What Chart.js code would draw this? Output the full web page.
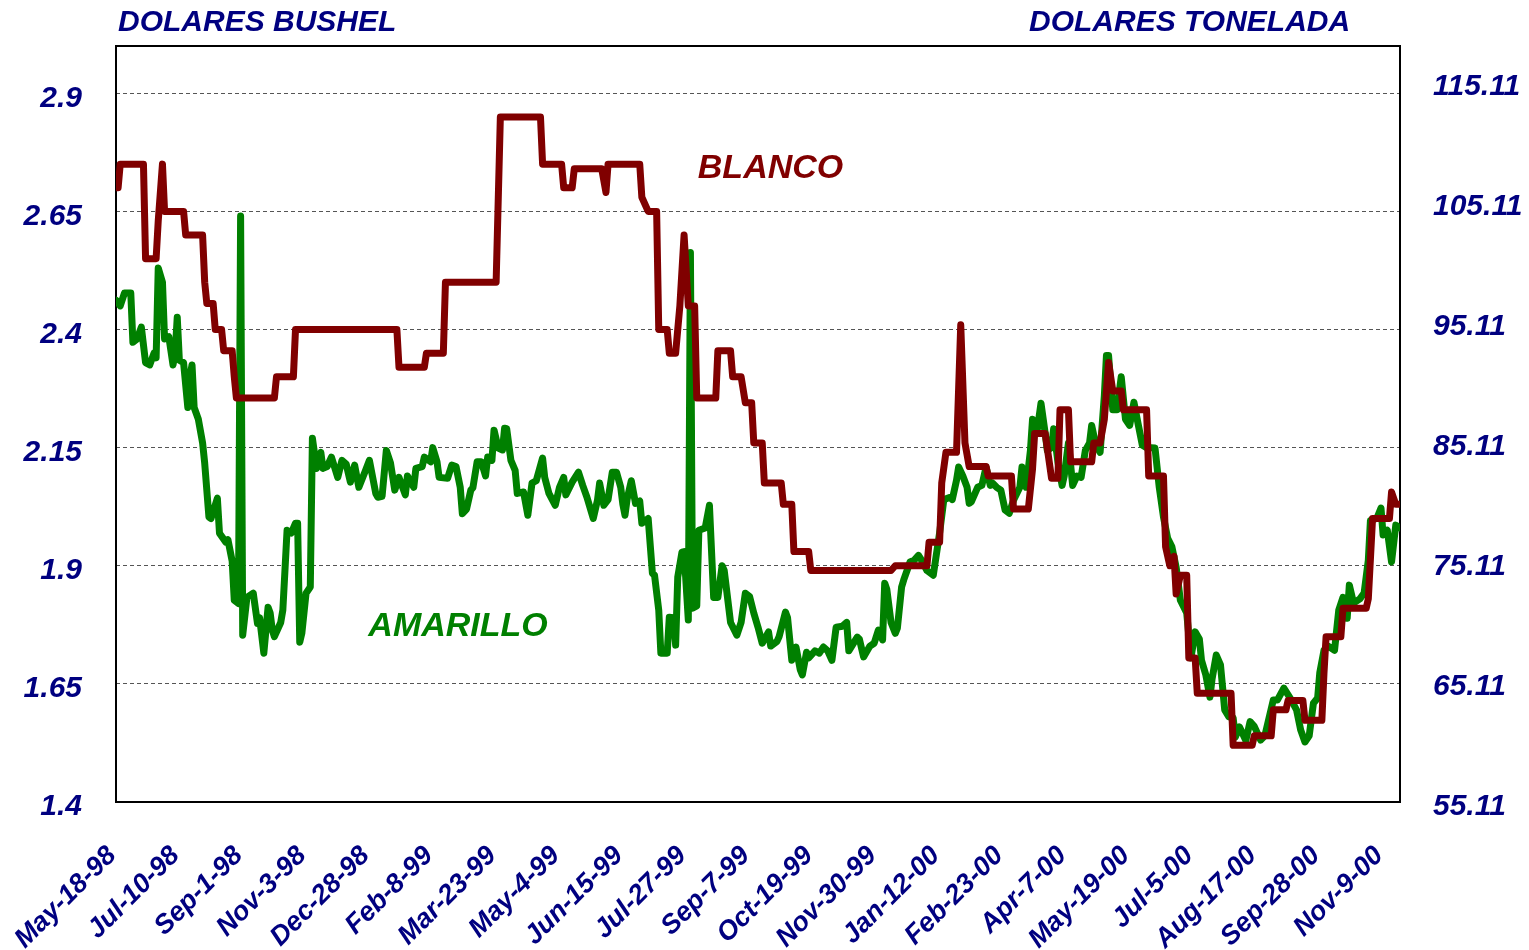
<!DOCTYPE html>
<html lang="es">
<head>
  <meta charset="utf-8">
  <script src="https://cdn.jsdelivr.net/npm/chart.js@4.4.1/dist/chart.umd.min.js"></script>
  <style>
    body { margin: 0; background: #fff; }
  </style>
</head>
<body>
<canvas id="myChart" width="1529" height="950"></canvas>

<script>
// etiquetas del eje X (cada 30 ruedas)
var xLabels = ['May-18-98','Jul-10-98','Sep-1-98','Nov-3-98','Dec-28-98','Feb-8-99','Mar-23-99','May-4-99',
  'Jun-15-99','Jul-27-99','Sep-7-99','Oct-19-99','Nov-30-99','Jan-12-00','Feb-23-00','Apr-7-00',
  'May-19-00','Jul-5-00','Aug-17-00','Sep-28-00','Nov-9-00'];
var leftTicks = [1.4, 1.65, 1.9, 2.15, 2.4, 2.65, 2.9];       // dolares bushel
var rightTicks = [55.11, 65.11, 75.11, 85.11, 95.11, 105.11, 115.11]; // dolares tonelada

// [rueda, dolares/bushel]
var blanco = [[0,2.70],[1,2.70],[2,2.75],[13,2.75],[14,2.55],[19,2.55],[20,2.63],[22,2.75],[23,2.65],[32,2.65],
  [33,2.60],[41,2.60],[42,2.50],[43,2.455],[46,2.455],[47,2.40],[50,2.40],[51,2.355],[55,2.355],[56,2.30],
  [57,2.255],[75,2.255],[76,2.30],[84,2.30],[85,2.40],[133,2.40],[134,2.32],[146,2.32],[147,2.35],[155,2.35],
  [156,2.50],[180,2.50],[182,2.85],[201,2.85],[202,2.75],[211,2.75],[212,2.70],[216,2.70],[217,2.74],[230,2.74],
  [232,2.69],[233,2.75],[248,2.75],[249,2.68],[252,2.65],[256,2.65],[257,2.40],[261,2.40],[262,2.35],[265,2.35],
  [267,2.45],[269,2.60],[271,2.45],[274,2.45],[275,2.255],[284,2.255],[285,2.355],[291,2.355],[292,2.30],[296,2.30],
  [298,2.245],[301,2.245],[302,2.16],[306,2.16],[307,2.075],[315,2.075],[316,2.03],[320,2.03],[321,1.93],[328,1.93],
  [329,1.89],[367,1.89],[369,1.90],[384,1.90],[385,1.95],[390,1.95],[391,2.075],[393,2.14],[398,2.14],[400,2.41],
  [402,2.16],[404,2.11],[412,2.11],[413,2.09],[424,2.09],[425,2.02],[432,2.02],[434,2.105],[435,2.18],[440,2.18],
  [443,2.085],[446,2.085],[447,2.23],[451,2.23],[452,2.12],[462,2.12],[463,2.16],[466,2.16],[468,2.21],[470,2.33],
  [472,2.27],[476,2.27],[477,2.23],[488,2.23],[489,2.09],[496,2.09],[497,1.94],[499,1.90],[501,1.92],[502,1.84],
  [504,1.88],[507,1.88],[508,1.705],[511,1.705],[512,1.63],[528,1.63],[529,1.52],[538,1.52],[539,1.54],[547,1.54],
  [548,1.595],[554,1.595],[555,1.615],[562,1.615],[563,1.573],[571,1.573],[572,1.673],[573,1.75],[580,1.75],[581,1.81],
  [592,1.81],[593,1.83],[595,2.0],[603,2.0],[604,2.056],[606,2.03],[608,2.03]];

var amarillo = [[0,2.462],[2,2.45],[4,2.477],[7,2.477],[8,2.373],[10,2.38],[12,2.405],[14,2.33],[16,2.325],[18,2.35],
  [19,2.34],[20,2.53],[22,2.50],[23,2.38],[25,2.385],[27,2.325],[28,2.35],[29,2.426],[30,2.335],[32,2.33],
  [34,2.235],[35,2.30],[36,2.325],[37,2.235],[39,2.21],[41,2.16],[42,2.117],[44,2.003],[45,2.00],[48,2.043],
  [49,1.969],[52,1.95],[53,1.955],[55,1.91],[56,1.827],[58,1.82],[59,2.64],[60,1.753],[62,1.833],[65,1.842],
  [67,1.778],[68,1.79],[70,1.715],[72,1.812],[73,1.80],[74,1.764],[75,1.75],[78,1.78],[79,1.806],[80,1.89],
  [81,1.975],[83,1.969],[85,1.99],[86,1.99],[87,1.738],[88,1.757],[90,1.842],[92,1.855],[93,2.17],[95,2.106],
  [97,2.14],[98,2.106],[100,2.11],[102,2.13],[105,2.087],[107,2.123],[109,2.115],[111,2.077],[113,2.113],[115,2.066],
  [118,2.10],[120,2.123],[123,2.053],[124,2.045],[126,2.047],[128,2.144],[130,2.117],[132,2.06],[134,2.087],[137,2.05],
  [138,2.09],[141,2.066],[142,2.106],[145,2.11],[146,2.13],[149,2.12],[150,2.15],[152,2.12],[153,2.087],[157,2.085],
  [159,2.113],[161,2.11],[163,2.066],[164,2.01],[166,2.02],[168,2.06],[169,2.065],[171,2.12],[173,2.12],[175,2.09],
  [176,2.13],[178,2.123],[179,2.187],[181,2.149],[183,2.145],[184,2.191],[185,2.19],[187,2.123],[189,2.102],[190,2.053],
  [193,2.056],[195,2.007],[197,2.075],[199,2.08],[202,2.128],[203,2.087],[205,2.053],[208,2.028],[210,2.066],[212,2.087],
  [213,2.05],[216,2.077],[219,2.098],[221,2.07],[223,2.045],[226,2.0],[228,2.039],[229,2.075],[231,2.028],[233,2.04],
  [235,2.098],[237,2.098],[239,2.066],[240,2.03],[241,2.007],[242,2.04],[244,2.08],[246,2.032],[248,2.037],[249,1.99],
  [252,2.0],[254,1.884],[255,1.88],[257,1.806],[258,1.715],[261,1.715],[262,1.791],[264,1.79],[265,1.732],[266,1.876],
  [268,1.929],[269,1.93],[271,1.785],[272,2.563],[273,1.81],[275,1.815],[276,1.975],[279,1.98],[281,2.028],[283,1.833],
  [285,1.833],[287,1.90],[288,1.89],[290,1.817],[291,1.78],[294,1.753],[296,1.78],[298,1.842],[300,1.835],[302,1.80],
  [304,1.77],[306,1.736],[309,1.76],[310,1.73],[313,1.74],[314,1.75],[317,1.802],[318,1.79],[320,1.70],[322,1.728],
  [324,1.68],[325,1.669],[327,1.717],[328,1.705],[331,1.72],[333,1.715],[335,1.728],[337,1.72],[339,1.70],[341,1.77],
  [344,1.772],[346,1.78],[347,1.72],[351,1.749],[352,1.745],[354,1.707],[357,1.73],[359,1.736],[361,1.764],[363,1.743],
  [364,1.863],[365,1.85],[367,1.78],[369,1.757],[370,1.768],[372,1.855],[373,1.87],[376,1.908],[378,1.912],[380,1.922],
  [381,1.915],[384,1.89],[387,1.88],[390,1.97],[392,2.04],[395,2.045],[396,2.04],[398,2.081],[399,2.109],[401,2.09],
  [403,2.066],[404,2.032],[405,2.035],[408,2.066],[410,2.07],[412,2.109],[414,2.07],[415,2.075],[417,2.066],[419,2.06],
  [421,2.018],[423,2.011],[425,2.039],[428,2.066],[429,2.109],[431,2.066],[433,2.144],[434,2.21],[436,2.18],[438,2.244],
  [440,2.18],[441,2.144],[443,2.15],[444,2.19],[446,2.12],[448,2.07],[449,2.09],[451,2.16],[453,2.07],[455,2.09],
  [457,2.087],[459,2.144],[461,2.16],[462,2.197],[464,2.155],[466,2.14],[468,2.26],[469,2.345],[470,2.345],[472,2.23],
  [474,2.23],[476,2.30],[478,2.21],[480,2.197],[482,2.246],[484,2.20],[486,2.155],[488,2.15],[490,2.15],[492,2.149],
  [494,2.066],[496,2.003],[498,1.958],[500,1.94],[502,1.897],[504,1.827],[507,1.80],[509,1.705],[511,1.76],[513,1.745],
  [514,1.70],[516,1.67],[518,1.622],[519,1.66],[521,1.711],[523,1.69],[525,1.595],[527,1.58],[529,1.578],[530,1.537],
  [532,1.559],[535,1.53],[537,1.57],[539,1.56],[542,1.531],[544,1.54],[548,1.616],[550,1.616],[553,1.641],[556,1.62],
  [559,1.595],[561,1.552],[563,1.527],[565,1.54],[567,1.609],[569,1.62],[570,1.673],[572,1.721],[574,1.73],[577,1.721],
  [579,1.806],[581,1.833],[583,1.789],[584,1.859],[586,1.821],[589,1.83],[591,1.842],[593,1.912],[594,1.996],[597,2.0],
  [599,2.022],[600,1.965],[602,1.975],[604,1.908],[606,1.986],[608,1.98]];

var NAVY = '#000080';
var FONT = '"Liberation Sans", Arial, sans-serif';

// textos fijos y marco del grafico
var textos = {
  id: 'textos',
  beforeDatasetsDraw: function(chart) {
    var ctx = chart.ctx, a = chart.chartArea;
    ctx.save();
    ctx.strokeStyle = '#000';
    ctx.lineWidth = 2;
    ctx.strokeRect(a.left, a.top, a.right - a.left, a.bottom - a.top);
    ctx.restore();
  },
  afterDraw: function(chart) {
    var ctx = chart.ctx;
    var xs = chart.scales.x, ys = chart.scales.y;
    ctx.save();
    ctx.font = 'italic bold 30px ' + FONT;
    ctx.fillStyle = NAVY;
    ctx.textBaseline = 'alphabetic';
    ctx.fillText('DOLARES BUSHEL', 118, 31);
    ctx.fillText('DOLARES TONELADA', 1029, 31);
    ctx.font = 'italic bold 34px ' + FONT;
    ctx.fillStyle = '#800000';
    ctx.fillText('BLANCO', xs.getPixelForValue(275.5), ys.getPixelForValue(2.72));
    ctx.fillStyle = '#008000';
    ctx.fillText('AMARILLO', xs.getPixelForValue(119.5), ys.getPixelForValue(1.752));
    ctx.restore();
  }
};

var ctx = document.getElementById('myChart').getContext('2d');
var myChart = new Chart(ctx, {
  type: 'line',
  data: {
    datasets: [{
      label: 'BLANCO',
      data: blanco.map(function(p) { return {x: p[0], y: p[1]}; }),
      borderColor: '#800000',
      borderWidth: 7,
      yAxisID: 'y'
    }, {
      label: 'AMARILLO',
      data: amarillo.map(function(p) { return {x: p[0], y: p[1]}; }),
      borderColor: '#008000',
      borderWidth: 7,
      yAxisID: 'y'
    }]
  },
  options: {
    responsive: false,
    animation: false,
    devicePixelRatio: 1,
    layout: { padding: { top: 46, left: 0, right: 0, bottom: 0 } },
    elements: {
      point: { radius: 0 },
      line: { tension: 0, borderJoinStyle: 'round', borderCapStyle: 'round' }
    },
    plugins: {
      legend: { display: false },
      tooltip: { enabled: false }
    },
    scales: {
      x: {
        type: 'linear',
        min: 0,
        max: 608,
        afterBuildTicks: function(scale) {
          scale.ticks = xLabels.map(function(_, i) { return {value: i * 30}; });
        },
        afterFit: function(scale) { scale.height = 148; scale.paddingLeft = 0; scale.paddingRight = 0; },
        grid: { display: false, drawTicks: false },
        border: { display: false },
        ticks: {
          autoSkip: false,
          minRotation: 45,
          maxRotation: 45,
          padding: 38,
          labelOffset: -4,
          color: NAVY,
          font: { family: FONT, size: 27, style: 'italic', weight: 'bold' },
          callback: function(v, i) { return xLabels[i]; }
        }
      },
      y: {
        position: 'left',
        min: 1.4,
        max: 3.0,
        afterBuildTicks: function(scale) {
          scale.ticks = leftTicks.map(function(v) { return {value: v}; });
        },
        afterFit: function(scale) { scale.width = 116; scale.paddingTop = 0; scale.paddingBottom = 0; },
        grid: {
          color: function(c) { return c.index === 0 ? 'rgba(0,0,0,0)' : '#555'; },
          lineWidth: 1,
          drawTicks: false
        },
        border: { display: false, dash: [4, 3] },
        ticks: {
          padding: 34,
          labelOffset: 5,
          color: NAVY,
          font: { family: FONT, size: 30, style: 'italic', weight: 'bold' },
          callback: function(v) { return String(v); }
        }
      },
      y2: {
        position: 'right',
        min: 55.11,
        max: 118.11,
        afterBuildTicks: function(scale) {
          scale.ticks = rightTicks.map(function(v) { return {value: v}; });
        },
        afterFit: function(scale) { scale.width = 129; scale.paddingTop = 0; scale.paddingBottom = 0; },
        grid: { display: false, drawTicks: false },
        border: { display: false },
        ticks: {
          padding: 33,
          labelOffset: 5,
          color: NAVY,
          font: { family: FONT, size: 30, style: 'italic', weight: 'bold' },
          callback: function(v) { return v.toFixed(2); }
        }
      }
    }
  },
  plugins: [textos]
});
</script>
</body>
</html>
